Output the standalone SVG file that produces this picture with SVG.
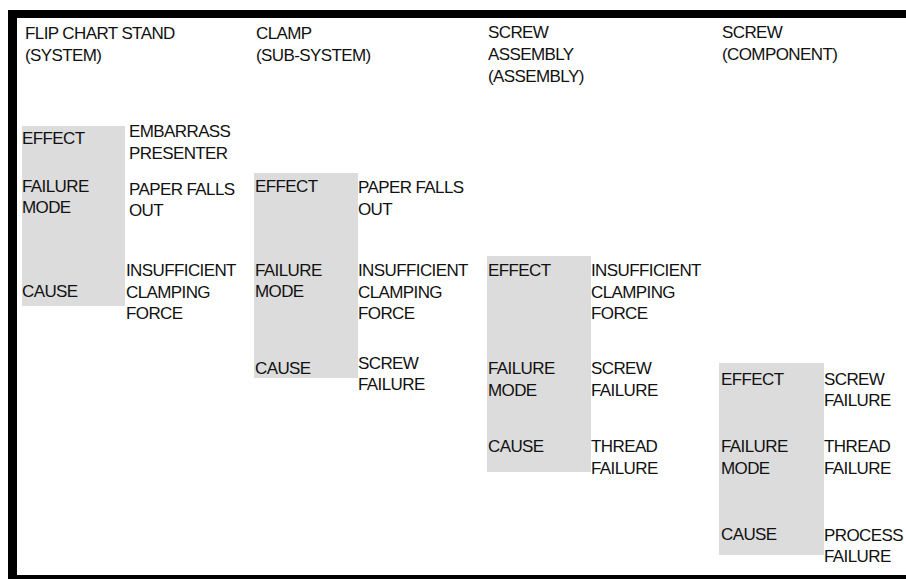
<svg xmlns="http://www.w3.org/2000/svg" width="906" height="579" viewBox="0 0 906 579">
<style>
text{font-family:"Liberation Sans",Arial,sans-serif;font-size:17px;fill:#111;letter-spacing:-0.6px}
.box{fill:#dcdcdc}
.frame{fill:#000}
</style>
<rect width="906" height="579" fill="#fff"/>
<g id="frame">
<rect class="frame" x="8" y="10" width="898" height="8"/>
<rect class="frame" x="8" y="10" width="9" height="569"/>
<rect class="frame" x="8" y="575" width="898" height="4"/>
</g>
<g id="titles">
<text x="25" y="39">FLIP CHART STAND</text>
<text x="25" y="61">(SYSTEM)</text>
<text x="256" y="39">CLAMP</text>
<text x="256" y="61">(SUB-SYSTEM)</text>
<text x="488" y="38">SCREW</text>
<text x="488" y="60">ASSEMBLY</text>
<text x="488" y="82">(ASSEMBLY)</text>
<text x="722" y="38">SCREW</text>
<text x="722" y="60">(COMPONENT)</text>
</g>
<g id="system">
<rect class="box" x="22" y="126" width="103" height="180"/>
<text x="22" y="144">EFFECT</text>
<text x="22" y="192">FAILURE</text>
<text x="22" y="213">MODE</text>
<text x="22" y="297">CAUSE</text>
<text x="129" y="137">EMBARRASS</text>
<text x="129" y="159">PRESENTER</text>
<text x="129" y="195">PAPER FALLS</text>
<text x="129" y="216">OUT</text>
<text x="126" y="276">INSUFFICIENT</text>
<text x="126" y="298">CLAMPING</text>
<text x="126" y="319">FORCE</text>
</g>
<g id="subsystem">
<rect class="box" x="254" y="173" width="104" height="205"/>
<text x="255" y="192">EFFECT</text>
<text x="255" y="276">FAILURE</text>
<text x="255" y="297">MODE</text>
<text x="255" y="374">CAUSE</text>
<text x="358" y="193">PAPER FALLS</text>
<text x="358" y="215">OUT</text>
<text x="358" y="276">INSUFFICIENT</text>
<text x="358" y="298">CLAMPING</text>
<text x="358" y="319">FORCE</text>
<text x="358" y="369">SCREW</text>
<text x="358" y="390">FAILURE</text>
</g>
<g id="assembly">
<rect class="box" x="487" y="256" width="104" height="216"/>
<text x="488" y="276">EFFECT</text>
<text x="488" y="374">FAILURE</text>
<text x="488" y="396">MODE</text>
<text x="488" y="452">CAUSE</text>
<text x="591" y="276">INSUFFICIENT</text>
<text x="591" y="298">CLAMPING</text>
<text x="591" y="319">FORCE</text>
<text x="591" y="374">SCREW</text>
<text x="591" y="396">FAILURE</text>
<text x="591" y="452">THREAD</text>
<text x="591" y="474">FAILURE</text>
</g>
<g id="component">
<rect class="box" x="719" y="363" width="105" height="192"/>
<text x="721" y="385">EFFECT</text>
<text x="721" y="452">FAILURE</text>
<text x="721" y="474">MODE</text>
<text x="721" y="540">CAUSE</text>
<text x="824" y="385">SCREW</text>
<text x="824" y="406">FAILURE</text>
<text x="824" y="452">THREAD</text>
<text x="824" y="474">FAILURE</text>
<text x="824" y="541">PROCESS</text>
<text x="824" y="562">FAILURE</text>
</g>
<g id="connectors"></g>
</svg>
